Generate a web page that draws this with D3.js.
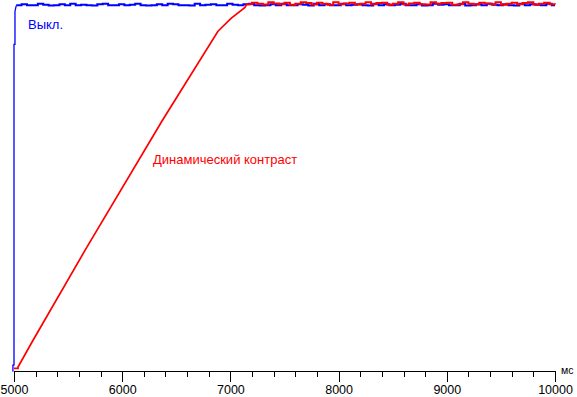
<!DOCTYPE html>
<html>
<head>
<meta charset="utf-8">
<script src="https://cdn.jsdelivr.net/npm/d3@7"></script>
<style>
  body { margin: 0; background: #fff; }
  svg { display: block; }
  text { font-family: "Liberation Sans", Arial, sans-serif; }
</style>
</head>
<body>
<div id="chart"></div>
<script>
    const width  = 577;
    const height = 397;

    // time (ms) / brightness (%)
    const blueRiseT = [4985, 4990, 4990, 5000, 5000, 5009, 5009, 5020];
    const blueRiseV = [0,    0,    1.6,  1.6,  89.1, 89.1, 98.1, 99.6];

    const redRiseT = [5000, 5037, 5037, 5176, 5656, 6368, 6885, 7006, 7135, 7150];
    const redRiseV = [0.7,  0.7,  1.1,  8.4,  32.9, 68.2, 92.7, 96.2, 99.2, 100.1];

    // plateau samples, every 50 ms
    const bluePlateauStart = 5020;
    const bluePlateau = [
      99.8, 100.1, 99.8, 99.8, 100.2, 99.9, 99.7, 99.8, 100.1, 99.8,
      100.2, 99.8, 99.9, 99.8, 99.7, 100.1, 100.2, 99.8, 99.8, 100.1,
      99.8, 99.9, 100.2, 99.8, 99.7, 99.8, 100.1, 99.8, 100.2, 100.1,
      99.8, 99.8, 99.7, 100.2, 99.8, 99.9, 100.1, 99.8, 99.8, 100.2,
      99.9, 99.8, 100.1, 100.2, 99.8, 99.7, 99.8, 100.1, 99.8, 100.2,
      99.8, 99.8, 100.1, 99.9, 99.7, 100.2, 99.8, 100.1, 99.8, 99.8,
      100.2, 99.8, 99.9, 100.1, 99.8, 99.7, 100.2, 99.8, 100.1, 99.8,
      99.9, 100.2, 99.8, 99.8, 100.1, 99.7, 99.8, 100.2, 99.9, 100.1,
      99.8, 99.8, 100.2, 99.7, 99.8, 100.1, 99.8, 100.2, 99.9, 99.8,
      100.1, 99.8, 99.7, 100.2, 99.8, 100.1, 99.9, 99.8, 100.2, 99.8
    ];
    const redPlateauStart = 7150;
    const redPlateau = [
      100.1, 100.5, 100.2, 100.0, 100.6, 100.3, 100.1, 100.5, 99.9, 100.2,
      100.6, 100.4, 100.0, 100.5, 100.2, 99.9, 100.6, 100.1, 100.3, 100.5,
      100.0, 100.2, 100.6, 100.1, 100.4, 100.5, 99.9, 100.2, 100.6, 100.0,
      100.3, 100.5, 100.1, 100.0, 100.6, 100.2, 100.4, 100.5, 99.9, 100.1,
      100.6, 100.2, 100.0, 100.5, 100.3, 100.1, 100.6, 99.9, 100.2, 100.5,
      100.1, 100.4, 100.6, 100.0, 100.2, 100.5, 100.1, 100.0
    ];

    const majorTicks = [5000, 6000, 7000, 8000, 9000, 10000];
    const minorTicks = d3.range(5200, 10000, 200).filter(t => t % 1000 !== 0);

    const x = d3.scaleLinear().domain([5000, 10000]).range([14, 555]);
    const y = d3.scaleLinear().domain([0, 100]).range([371, 4.5]);

    const svg = d3.select('#chart')
      .append('svg')
      .attr('width', width)
      .attr('height', height);

    const rise = (ts, vs) => ts.map((t, i) => [t, vs[i]]);
    const plateau = (start, vs) => {
      const pts = vs.map((v, i) => [start + i * 50, v]);
      pts.push([10000, vs[vs.length - 1]]);
      return pts;
    };

    const lineLin = d3.line().x(d => x(d[0])).y(d => y(d[1]));
    const lineStep = d3.line().x(d => x(d[0])).y(d => y(d[1])).curve(d3.curveStepAfter);

    // axis
    const axisG = svg.append('g')
      .attr('transform', 'translate(0,370.5)')
      .attr('shape-rendering', 'crispEdges');

    axisG.append('g')
      .call(d3.axisBottom(x).tickValues(minorTicks).tickSize(6).tickFormat(''))
      .call(g => g.select('.domain').remove());

    axisG.append('g')
      .call(d3.axisBottom(x).tickValues(majorTicks).tickSize(11).tickSizeOuter(0).tickPadding(4).tickFormat(d3.format('d')))
      .call(g => g.selectAll('text')
        .attr('font-family', '"Liberation Sans", Arial, sans-serif')
        .attr('font-size', 12.5)
        .attr('fill', '#000'));

    svg.append('text')
      .attr('x', 561).attr('y', 374)
      .attr('font-size', 10.5)
      .text('мс');

    // series
    const series = [
      { color: '#0000ff', riseT: blueRiseT, riseV: blueRiseV, start: bluePlateauStart, plat: bluePlateau, w: 1.3 },
      { color: '#ff0000', riseT: redRiseT, riseV: redRiseV, start: redPlateauStart, plat: redPlateau, w: 1.7 }
    ];

    series.forEach(s => {
      svg.append('path')
        .attr('d', lineLin(rise(s.riseT, s.riseV)))
        .attr('fill', 'none')
        .attr('stroke', s.color)
        .attr('stroke-width', s.w);
      svg.append('path')
        .attr('d', lineStep(plateau(s.start, s.plat)))
        .attr('fill', 'none')
        .attr('stroke', s.color)
        .attr('stroke-width', 2);
    });

    svg.append('text')
      .attr('x', 28).attr('y', 29)
      .attr('font-size', 13)
      .attr('fill', '#0000ff')
      .text('Выкл.');

    svg.append('text')
      .attr('x', 153).attr('y', 164)
      .attr('font-size', 13)
      .attr('fill', '#ff0000')
      .text('Динамический контраст');
</script>
</body>
</html>
